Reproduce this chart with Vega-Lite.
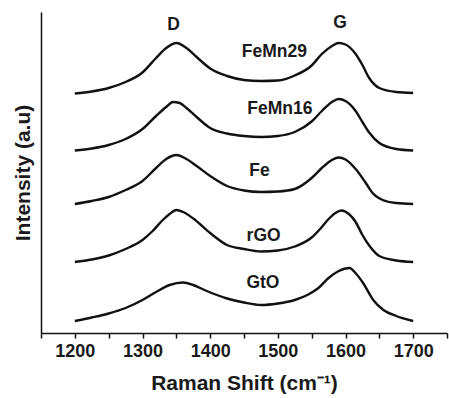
{
  "$schema": "https://vega.github.io/schema/vega-lite/v6.json",
  "width": 406,
  "height": 321,
  "autosize": "none",
  "padding": {"left": 41, "top": 12, "right": 2, "bottom": 65},
  "background": "white",
  "config": {
    "view": {"stroke": null},
    "font": "Liberation Sans",
    "axis": {"grid": false}
  },
  "datasets": {
    "curves": [
      {"s": "FeMn29", "x": 1200, "y": 239.5}, {"s": "FeMn29", "x": 1225, "y": 241.5}, {"s": "FeMn29", "x": 1250, "y": 245}, {"s": "FeMn29", "x": 1275, "y": 251}, {"s": "FeMn29", "x": 1300, "y": 260.5}, {"s": "FeMn29", "x": 1320, "y": 275}, {"s": "FeMn29", "x": 1335, "y": 285}, {"s": "FeMn29", "x": 1350, "y": 290}, {"s": "FeMn29", "x": 1365, "y": 285}, {"s": "FeMn29", "x": 1380, "y": 276}, {"s": "FeMn29", "x": 1400, "y": 264.5}, {"s": "FeMn29", "x": 1425, "y": 257}, {"s": "FeMn29", "x": 1450, "y": 253}, {"s": "FeMn29", "x": 1475, "y": 252}, {"s": "FeMn29", "x": 1500, "y": 252.5}, {"s": "FeMn29", "x": 1525, "y": 257.5}, {"s": "FeMn29", "x": 1550, "y": 267.5}, {"s": "FeMn29", "x": 1565, "y": 279}, {"s": "FeMn29", "x": 1580, "y": 287}, {"s": "FeMn29", "x": 1590, "y": 290}, {"s": "FeMn29", "x": 1600, "y": 288.5}, {"s": "FeMn29", "x": 1615, "y": 279}, {"s": "FeMn29", "x": 1625, "y": 268}, {"s": "FeMn29", "x": 1635, "y": 255}, {"s": "FeMn29", "x": 1650, "y": 245}, {"s": "FeMn29", "x": 1675, "y": 241}, {"s": "FeMn29", "x": 1700, "y": 240},

      {"s": "FeMn16", "x": 1200, "y": 182.5}, {"s": "FeMn16", "x": 1225, "y": 184.5}, {"s": "FeMn16", "x": 1250, "y": 188}, {"s": "FeMn16", "x": 1275, "y": 194}, {"s": "FeMn16", "x": 1300, "y": 204}, {"s": "FeMn16", "x": 1320, "y": 217}, {"s": "FeMn16", "x": 1335, "y": 226}, {"s": "FeMn16", "x": 1345, "y": 231}, {"s": "FeMn16", "x": 1355, "y": 230}, {"s": "FeMn16", "x": 1365, "y": 225}, {"s": "FeMn16", "x": 1380, "y": 216}, {"s": "FeMn16", "x": 1400, "y": 205}, {"s": "FeMn16", "x": 1425, "y": 199.5}, {"s": "FeMn16", "x": 1450, "y": 197}, {"s": "FeMn16", "x": 1475, "y": 196}, {"s": "FeMn16", "x": 1500, "y": 197}, {"s": "FeMn16", "x": 1525, "y": 201}, {"s": "FeMn16", "x": 1550, "y": 211.5}, {"s": "FeMn16", "x": 1565, "y": 222}, {"s": "FeMn16", "x": 1580, "y": 231}, {"s": "FeMn16", "x": 1590, "y": 234}, {"s": "FeMn16", "x": 1600, "y": 232}, {"s": "FeMn16", "x": 1615, "y": 222}, {"s": "FeMn16", "x": 1625, "y": 211}, {"s": "FeMn16", "x": 1635, "y": 200.5}, {"s": "FeMn16", "x": 1650, "y": 190}, {"s": "FeMn16", "x": 1675, "y": 184}, {"s": "FeMn16", "x": 1700, "y": 182.5},

      {"s": "Fe", "x": 1200, "y": 129}, {"s": "Fe", "x": 1225, "y": 132}, {"s": "Fe", "x": 1250, "y": 136}, {"s": "Fe", "x": 1275, "y": 143}, {"s": "Fe", "x": 1300, "y": 152}, {"s": "Fe", "x": 1320, "y": 165}, {"s": "Fe", "x": 1335, "y": 174}, {"s": "Fe", "x": 1350, "y": 178}, {"s": "Fe", "x": 1365, "y": 174}, {"s": "Fe", "x": 1380, "y": 167}, {"s": "Fe", "x": 1400, "y": 157}, {"s": "Fe", "x": 1425, "y": 147}, {"s": "Fe", "x": 1450, "y": 142.5}, {"s": "Fe", "x": 1475, "y": 141}, {"s": "Fe", "x": 1500, "y": 141.5}, {"s": "Fe", "x": 1525, "y": 144}, {"s": "Fe", "x": 1550, "y": 155}, {"s": "Fe", "x": 1565, "y": 165}, {"s": "Fe", "x": 1580, "y": 173}, {"s": "Fe", "x": 1590, "y": 175.5}, {"s": "Fe", "x": 1600, "y": 173.5}, {"s": "Fe", "x": 1615, "y": 164}, {"s": "Fe", "x": 1630, "y": 150}, {"s": "Fe", "x": 1640, "y": 140}, {"s": "Fe", "x": 1655, "y": 133}, {"s": "Fe", "x": 1675, "y": 130}, {"s": "Fe", "x": 1700, "y": 129},

      {"s": "rGO", "x": 1200, "y": 71}, {"s": "rGO", "x": 1225, "y": 73.5}, {"s": "rGO", "x": 1250, "y": 77.5}, {"s": "rGO", "x": 1275, "y": 84}, {"s": "rGO", "x": 1300, "y": 93}, {"s": "rGO", "x": 1315, "y": 102}, {"s": "rGO", "x": 1330, "y": 113}, {"s": "rGO", "x": 1340, "y": 119}, {"s": "rGO", "x": 1350, "y": 123}, {"s": "rGO", "x": 1360, "y": 121}, {"s": "rGO", "x": 1375, "y": 114.5}, {"s": "rGO", "x": 1400, "y": 100}, {"s": "rGO", "x": 1425, "y": 88}, {"s": "rGO", "x": 1450, "y": 84}, {"s": "rGO", "x": 1475, "y": 81.5}, {"s": "rGO", "x": 1500, "y": 82.5}, {"s": "rGO", "x": 1525, "y": 86.5}, {"s": "rGO", "x": 1550, "y": 95.5}, {"s": "rGO", "x": 1565, "y": 106}, {"s": "rGO", "x": 1575, "y": 114}, {"s": "rGO", "x": 1585, "y": 120}, {"s": "rGO", "x": 1594, "y": 122.5}, {"s": "rGO", "x": 1605, "y": 119}, {"s": "rGO", "x": 1615, "y": 111}, {"s": "rGO", "x": 1625, "y": 98}, {"s": "rGO", "x": 1635, "y": 87.5}, {"s": "rGO", "x": 1650, "y": 77}, {"s": "rGO", "x": 1675, "y": 72.5}, {"s": "rGO", "x": 1700, "y": 71},

      {"s": "GtO", "x": 1200, "y": 12}, {"s": "GtO", "x": 1225, "y": 15.5}, {"s": "GtO", "x": 1250, "y": 19.5}, {"s": "GtO", "x": 1275, "y": 25}, {"s": "GtO", "x": 1300, "y": 33}, {"s": "GtO", "x": 1320, "y": 41}, {"s": "GtO", "x": 1340, "y": 48}, {"s": "GtO", "x": 1360, "y": 50.5}, {"s": "GtO", "x": 1375, "y": 48}, {"s": "GtO", "x": 1390, "y": 43.5}, {"s": "GtO", "x": 1410, "y": 38}, {"s": "GtO", "x": 1425, "y": 34.5}, {"s": "GtO", "x": 1450, "y": 30.5}, {"s": "GtO", "x": 1475, "y": 28}, {"s": "GtO", "x": 1500, "y": 29.5}, {"s": "GtO", "x": 1525, "y": 33}, {"s": "GtO", "x": 1545, "y": 38.5}, {"s": "GtO", "x": 1560, "y": 45}, {"s": "GtO", "x": 1575, "y": 55}, {"s": "GtO", "x": 1590, "y": 62}, {"s": "GtO", "x": 1606, "y": 65}, {"s": "GtO", "x": 1616, "y": 59}, {"s": "GtO", "x": 1626, "y": 50}, {"s": "GtO", "x": 1641, "y": 33}, {"s": "GtO", "x": 1656, "y": 23}, {"s": "GtO", "x": 1675, "y": 17}, {"s": "GtO", "x": 1700, "y": 12}
    ],
    "labels": [
      {"t": "FeMn29", "x": 1495, "y": 281},
      {"t": "FeMn16", "x": 1503, "y": 224},
      {"t": "Fe", "x": 1473, "y": 162},
      {"t": "rGO", "x": 1479, "y": 97},
      {"t": "GtO", "x": 1478, "y": 50},
      {"t": "D", "x": 1346, "y": 308},
      {"t": "G", "x": 1592, "y": 310}
    ]
  },
  "layer": [
    {
      "data": {"name": "curves"},
      "mark": {"type": "line", "interpolate": "monotone", "color": "#111111", "strokeWidth": 2.4},
      "encoding": {
        "x": {
          "field": "x", "type": "quantitative",
          "scale": {"domain": [1150, 1750], "nice": false, "zero": false},
          "axis": {
            "title": "Raman Shift (cm⁻¹)",
            "values": [1150, 1200, 1250, 1300, 1350, 1400, 1450, 1500, 1550, 1600, 1650, 1700, 1750],
            "tickCount": 30,
            "labelExpr": "datum.value % 100 == 0 ? '' + datum.value : ''",
            "labelOverlap": false, "labelFlush": false, "labelBound": false,
            "domainColor": "#111111", "domainWidth": 1.5,
            "tickColor": "#111111", "tickWidth": 1.5, "tickSize": 5,
            "labelFont": "Liberation Sans", "labelFontSize": 18, "labelFontWeight": "bold", "labelColor": "#1a1a1a", "labelPadding": 4,
            "titleFont": "Liberation Sans", "titleFontSize": 21, "titleFontWeight": "bold", "titleColor": "#1a1a1a", "titlePadding": 12
          }
        },
        "y": {
          "field": "y", "type": "quantitative",
          "scale": {"domain": [0, 321], "nice": false},
          "axis": {
            "title": "Intensity (a.u)",
            "labels": false, "ticks": false,
            "domainColor": "#111111", "domainWidth": 1.5,
            "titleFont": "Liberation Sans", "titleFontSize": 21, "titleFontWeight": "bold", "titleColor": "#1a1a1a", "titlePadding": 8
          }
        },
        "detail": {"field": "s", "type": "nominal"}
      }
    },
    {
      "data": {"name": "labels"},
      "mark": {"type": "text", "font": "Liberation Sans", "fontSize": 17.5, "fontWeight": "bold", "color": "#1a1a1a", "align": "center", "baseline": "middle"},
      "encoding": {
        "x": {"field": "x", "type": "quantitative"},
        "y": {"field": "y", "type": "quantitative"},
        "text": {"field": "t", "type": "nominal"}
      }
    }
  ]
}
